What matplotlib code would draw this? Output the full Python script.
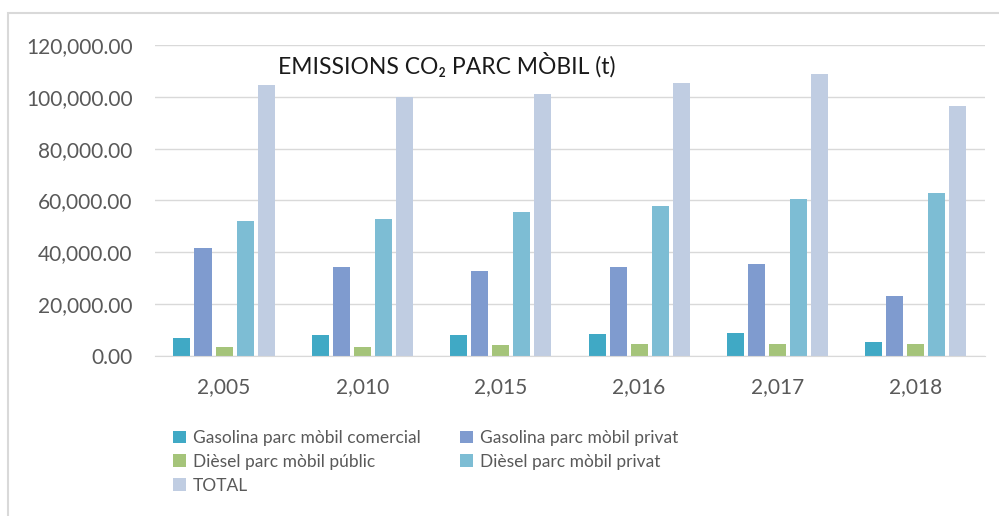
import numpy as np
import matplotlib.pyplot as plt
from matplotlib.patches import Rectangle
from matplotlib.ticker import FuncFormatter

plt.rcParams['font.family'] = ['Lato', 'DejaVu Sans']

years = ['2,005', '2,010', '2,015', '2,016', '2,017', '2,018']
series = ['Gasolina parc mòbil comercial', 'Gasolina parc mòbil privat',
          'Dièsel parc mòbil públic', 'Dièsel parc mòbil privat', 'TOTAL']
gas_comercial = [6900, 8100, 8100, 8500, 8900, 5400]
gas_privat = [41700, 34400, 32800, 34400, 35500, 23200]
diesel_public = [3500, 3500, 4200, 4600, 4600, 4600]
diesel_privat = [52100, 52900, 55600, 57900, 60600, 62900]
total = [104600, 100000, 101200, 105400, 108900, 96500]
colors = ['#40a9c5', '#7f9bcf', '#a5c47a', '#7dbdd4', '#c0cde2']

values = [gas_comercial, gas_privat, diesel_public, diesel_privat, total]

fig = plt.figure(figsize=(9.99, 5.16), dpi=100)
fig.patches.append(Rectangle((0.008, -0.01), 1.1, 0.985, transform=fig.transFigure,
                             fill=False, edgecolor='#d9d9d9', linewidth=1.5))
ax = fig.add_axes([0.155, 0.31, 0.831, 0.603])

x = np.arange(len(years))
step = 0.152
width = 0.123
for i, (name, vals) in enumerate(zip(series, values)):
    ax.bar(x + (i - 2) * step, vals, width, color=colors[i], label=name, zorder=2)

ax.set_xlim(-0.5, len(years) - 0.5)
ax.set_ylim(0, 120000)
ax.set_yticks(np.arange(0, 120001, 20000))
ax.yaxis.set_major_formatter(FuncFormatter(lambda v, p: f'{v:,.2f}'))
ax.set_xticks(x)
ax.set_xticklabels(years)
ax.tick_params(axis='both', length=0, labelsize=15, colors='#595959')
ax.tick_params(axis='x', pad=15)
ax.tick_params(axis='y', pad=16)
ax.grid(axis='y', color='#d9d9d9', linewidth=1, zorder=0)
for s in ['top', 'right', 'left']:
    ax.spines[s].set_visible(False)
ax.spines['bottom'].set_color('#d9d9d9')

ax.text(0.148, 0.935, 'EMISSIONS CO₂ PARC MÒBIL (t)', transform=ax.transAxes,
        fontsize=16.5, color='#1a1a1a', va='center', ha='left')

handles, labels = ax.get_legend_handles_labels()
# TOTAL goes in the third row of the first column
order = [0, 2, 4, 1, 3]
leg = fig.legend([handles[i] for i in order], [labels[i] for i in order],
                 loc='upper left', bbox_to_anchor=(0.166, 0.18), ncol=2,
                 frameon=False, fontsize=12.5, handlelength=0.75, handleheight=0.75,
                 handletextpad=0.4, columnspacing=2.3, labelspacing=0.45,
                 borderaxespad=0)
for t in leg.get_texts():
    t.set_color('#595959')

fig.savefig('out.png', dpi=100)
